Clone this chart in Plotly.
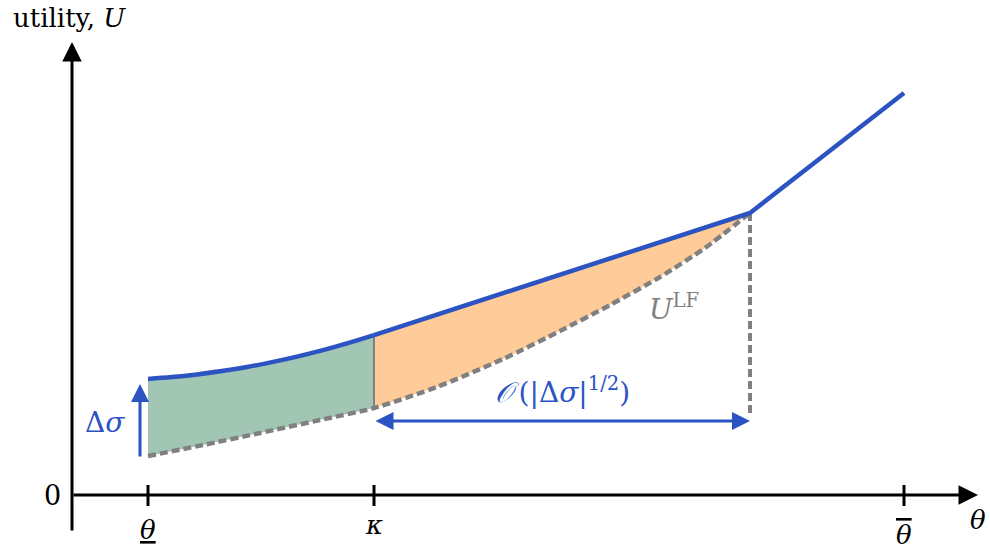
import plotly.graph_objects as go

# ---- data (theta units, utility units) ----
theta_low = 0.76
kappa = 3.02
theta_kink = 6.78
theta_bar = 8.32
theta_axis_end = 9.06
u_axis_end = 4.53

# upper (blue) utility curve U
U_theta = [0.76, 1.00, 1.25, 1.50, 1.75, 2.00, 2.25, 2.50, 2.75, 3.02, 6.78, 7.55, 8.32]
U_vals = [1.160, 1.179, 1.206, 1.239, 1.280, 1.329, 1.384, 1.446, 1.516, 1.599, 2.82, 3.42, 4.02]

# lower (grey dashed) curve U^LF
LF_theta = [0.76, 1.31, 1.88, 2.48, 3.02, 3.65, 4.31, 4.88, 5.38, 5.88, 6.33, 6.78]
LF_vals = [0.39, 0.50, 0.62, 0.75, 0.87, 1.08, 1.36, 1.64, 1.90, 2.18, 2.47, 2.82]

delta_sigma_low = 0.37
delta_sigma_high = 1.11
gap_arrow_y = 0.74
gap_line_bottom = 0.82

tick_vals = [theta_low, kappa, theta_bar]
tick_text = ["<u>θ</u>", "κ", "<span style='text-decoration:overline'>θ</span>"]

BLUE = "#2B53C2"
GREY = "#808080"
GREEN = "#A2C6B4"
ORANGE = "#FFCB99"
SERIF = "DejaVu Serif, Liberation Serif, serif"


def segment(xs, ys, lo, hi):
    px, py = [], []
    for x, y in zip(xs, ys):
        if lo - 1e-9 <= x <= hi + 1e-9:
            px.append(x)
            py.append(y)
    return px, py


fig = go.Figure()

# fills
for lo, hi, col in [(theta_low, kappa, GREEN), (kappa, theta_kink, ORANGE)]:
    ux, uy = segment(U_theta, U_vals, lo, hi)
    lx, ly = segment(LF_theta, LF_vals, lo, hi)
    fig.add_trace(go.Scatter(x=ux + lx[::-1], y=uy + ly[::-1], fill="toself",
                             fillcolor=col, line=dict(width=0), mode="lines",
                             hoverinfo="skip", showlegend=False))

# thin grey divider at kappa
ux, uy = segment(U_theta, U_vals, kappa, kappa)
lx, ly = segment(LF_theta, LF_vals, kappa, kappa)
fig.add_trace(go.Scatter(x=[kappa, kappa], y=[ly[0], uy[0]], mode="lines",
                         line=dict(color=GREY, width=2), showlegend=False))

# U^LF dashed
fig.add_trace(go.Scatter(x=LF_theta, y=LF_vals, mode="lines",
                         line=dict(color=GREY, width=4.5, dash="8px,4px", shape="spline",
                                   smoothing=0.6),
                         showlegend=False))
# vertical dashed at kink
fig.add_trace(go.Scatter(x=[theta_kink, theta_kink], y=[LF_vals[-1], gap_line_bottom],
                         mode="lines", line=dict(color=GREY, width=4, dash="8px,4px"),
                         showlegend=False))

# U blue: curved part (spline) and linear part
lx_, ly_ = segment(U_theta, U_vals, theta_low, kappa)
fig.add_trace(go.Scatter(x=lx_, y=ly_, mode="lines",
                         line=dict(color=BLUE, width=4.5, shape="spline", smoothing=1.0),
                         showlegend=False))
rx_, ry_ = segment(U_theta, U_vals, kappa, theta_bar)
fig.add_trace(go.Scatter(x=rx_, y=ry_, mode="lines",
                         line=dict(color=BLUE, width=4.5), showlegend=False))

ann = []
# axes
ann.append(dict(x=0, y=u_axis_end, ax=0, ay=-0.37, xref="x", yref="y", axref="x", ayref="y",
                showarrow=True, arrowhead=2, arrowsize=1.3, arrowwidth=3, arrowcolor="black",
                standoff=0, text=""))
ann.append(dict(x=theta_axis_end, y=0, ax=0, ay=0, xref="x", yref="y", axref="x", ayref="y",
                showarrow=True, arrowhead=2, arrowsize=1.3, arrowwidth=3, arrowcolor="black",
                standoff=0, text=""))
# delta sigma arrow
ann.append(dict(x=0.68, y=delta_sigma_high, ax=0.68, ay=delta_sigma_low, xref="x", yref="y",
                axref="x", ayref="y", showarrow=True, arrowhead=2, arrowsize=1.2,
                arrowwidth=3, arrowcolor=BLUE, standoff=0, text=""))
# double arrow
ann.append(dict(x=theta_kink, y=gap_arrow_y, ax=kappa, ay=gap_arrow_y, xref="x", yref="y",
                axref="x", ayref="y", showarrow=True, arrowhead=2, startarrowhead=2,
                arrowside="end+start", arrowsize=1.2, startarrowsize=1.2,
                arrowwidth=3, arrowcolor=BLUE, standoff=0, startstandoff=0, text=""))

# ticks
shapes = []
for t in tick_vals:
    shapes.append(dict(type="line", x0=t, x1=t, y0=-0.11, y1=0.10, xref="x", yref="y",
                       line=dict(color="black", width=3)))


def txt(x, y, s, size=22, color="black"):
    ann.append(dict(x=x, y=y, text=s, showarrow=False, xref="x", yref="y",
                    font=dict(family=SERIF, size=size, color=color)))


txt(-0.03, 4.77, "utility, <i>U</i>", 26)
txt(-0.20, 0.0, "0", 27)
for t, s, yy in zip(tick_vals, tick_text, [-0.35, -0.30, -0.40]):
    txt(t, yy, "<i>" + s + "</i>", 26)
txt(9.06, -0.25, "<i>θ</i>", 26)
txt(0.33, 0.73, "Δ<i>σ</i>", 28, BLUE)
txt(4.90, 1.05, "<i>𝒪</i>\u2009(|Δ<i>σ</i>|<sup>1/2</sup>)", 28, BLUE)
txt(6.02, 1.88, "<i>U</i><sup>LF</sup>", 28, GREY)

fig.update_layout(
    width=990, height=552, margin=dict(l=0, r=0, t=0, b=0),
    paper_bgcolor="white", plot_bgcolor="white",
    xaxis=dict(range=[-0.72, 9.18], visible=False, fixedrange=True),
    yaxis=dict(range=[-0.57, 4.95], visible=False, fixedrange=True),
    annotations=ann, shapes=shapes, showlegend=False,
)

fig.write_html("out.html", config={"displayModeBar": False},
               post_script="document.body.style.margin='0px';")
